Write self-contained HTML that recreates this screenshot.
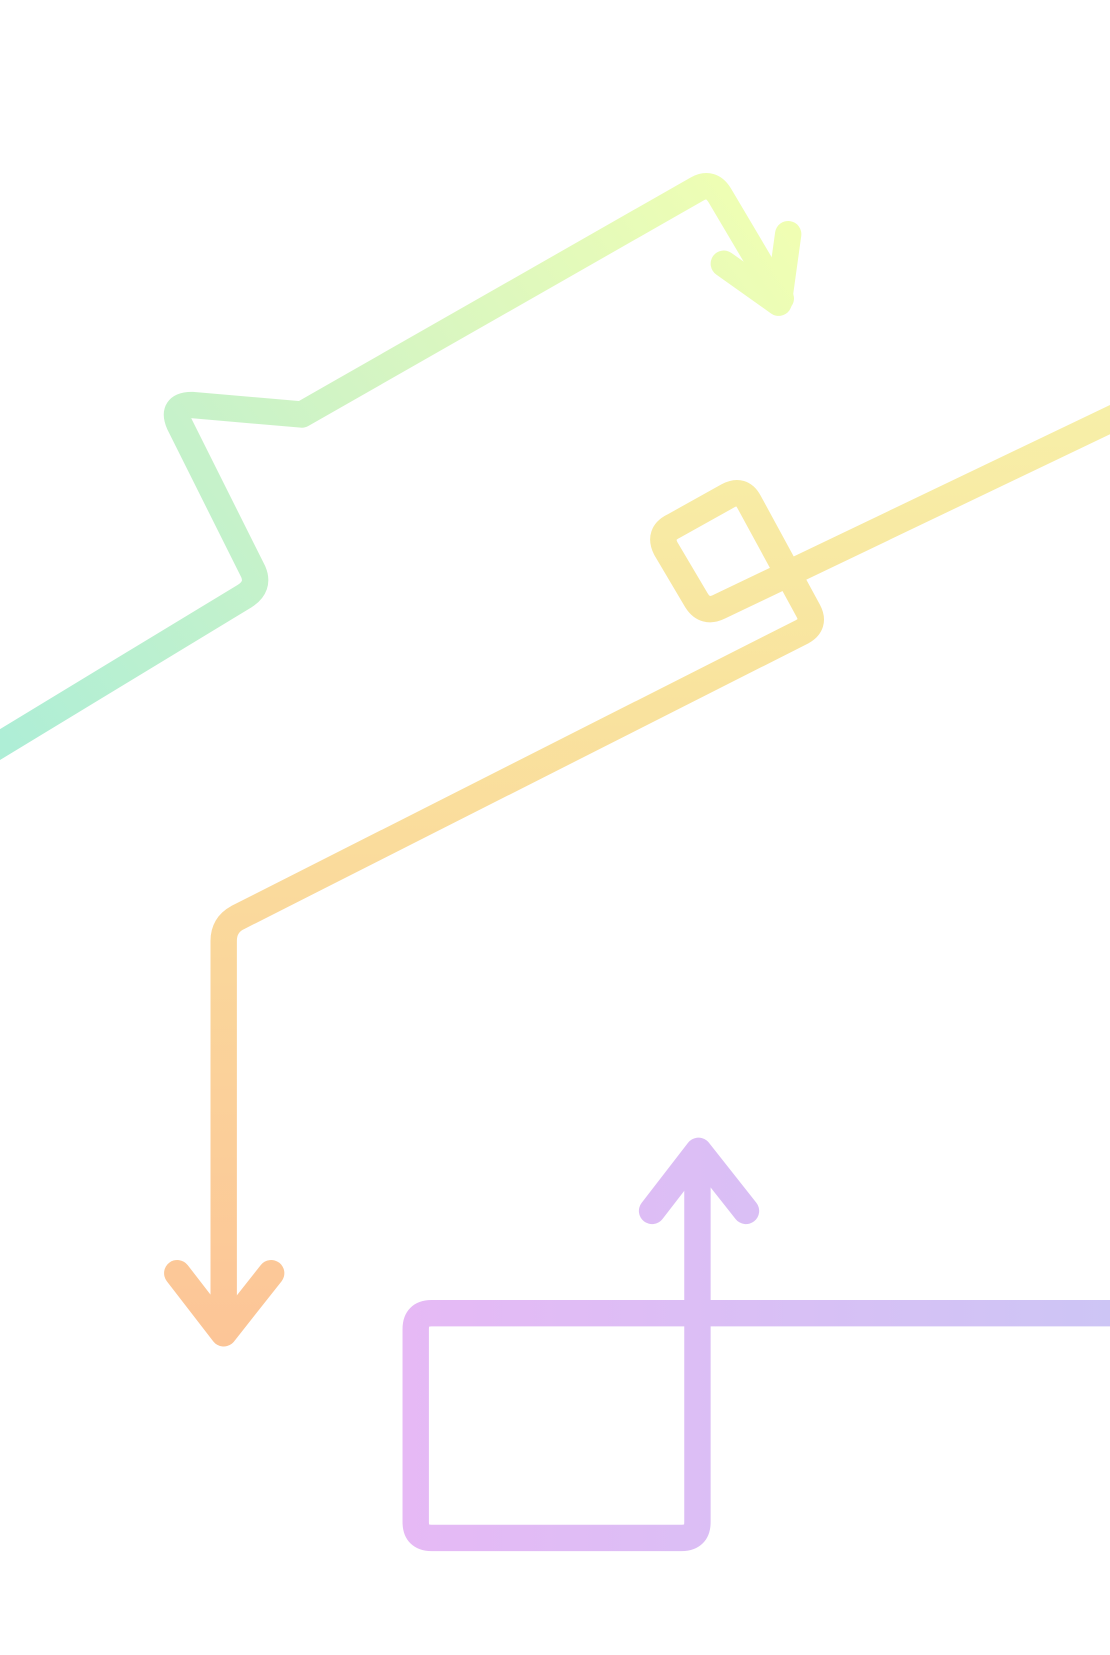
<!DOCTYPE html>
<html><head><meta charset="utf-8"><style>
html,body{margin:0;padding:0;background:#fff;}
svg{display:block;}
</style></head><body>
<svg width="1110" height="1655" viewBox="0 0 1052 1569" preserveAspectRatio="none" xmlns="http://www.w3.org/2000/svg">
<defs>
<linearGradient id="g1" gradientUnits="userSpaceOnUse" x1="0" y1="700" x2="750" y2="170">
<stop offset="0" stop-color="#aeeed6"/><stop offset="0.5" stop-color="#d2f4c4"/><stop offset="1" stop-color="#f2ffb2"/>
</linearGradient>
<linearGradient id="g2" gradientUnits="userSpaceOnUse" x1="0" y1="390" x2="0" y2="1270">
<stop offset="0" stop-color="#f7efa8"/><stop offset="0.3" stop-color="#f9e39e"/><stop offset="1" stop-color="#fcc597"/>
</linearGradient>
<linearGradient id="g3" gradientUnits="userSpaceOnUse" x1="380" y1="0" x2="1052" y2="0">
<stop offset="0" stop-color="#e6b9f5"/><stop offset="1" stop-color="#cdc5f5"/>
</linearGradient>
</defs>
<g fill="none" stroke-width="25" stroke-linejoin="round" stroke-linecap="round">
<path stroke="url(#g1)" d="M-20 718 L232 565 Q246 556 240 542 L170 402 Q162 384 182 384 L286 393 L661 179 Q674 172 682 185 L740 283"/>
<path stroke="url(#g1)" d="M686 250 L738 287 L747 222"/>
<path stroke="url(#g2)" stroke-linecap="butt" d="M1060 394 L682 575 Q668 582 660 569 L631 520 Q624 506 638 499 L690 470 Q703 463 710 476 L766 579 Q773 592 760 599 L225 870 Q212 877 212 892 L212 1262"/>
<path stroke="url(#g2)" d="M168 1207 L212 1264 L257 1207"/>
<path stroke="url(#g3)" stroke-linecap="butt" d="M1060 1245 H409 Q394 1245 394 1260 V1443 Q394 1458 409 1458 H646 Q661 1458 661 1443 V1094"/>
<path stroke="url(#g3)" d="M618 1148 L662 1091 L707 1148"/>
</g>
</svg>
</body></html>
